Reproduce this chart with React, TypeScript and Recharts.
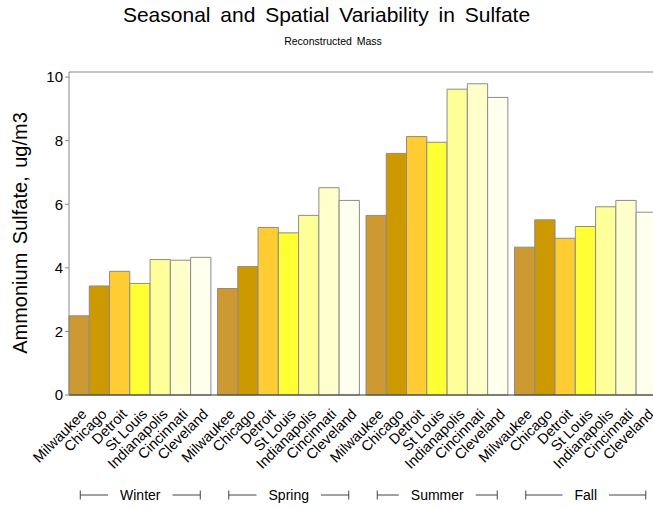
import { BarChart, Bar, XAxis, YAxis, ReferenceLine } from "recharts";

const seasons = ["Winter", "Spring", "Summer", "Fall"];
const cities = ["Milwaukee", "Chicago", "Detroit", "St Louis", "Indianapolis", "Cincinnati", "Cleveland"];

// ammonium sulfate by season, one array per site
const milwaukee = [2.49, 3.35, 5.65, 4.65];
const chicago = [3.43, 4.04, 7.6, 5.51];
const detroit = [3.89, 5.27, 8.13, 4.93];
const stLouis = [3.51, 5.1, 7.95, 5.3];
const indianapolis = [4.26, 5.65, 9.62, 5.92];
const cincinnati = [4.24, 6.52, 9.79, 6.12];
const cleveland = [4.33, 6.12, 9.36, 5.75];

const cityValues = [milwaukee, chicago, detroit, stLouis, indianapolis, cincinnati, cleveland];
const cityColors = ["#cc9933", "#cc9900", "#ffcc33", "#ffff33", "#ffff99", "#ffffcc", "#ffffee"];
const yTicks = [0, 2, 4, 6, 8, 10];

const data = seasons.map((season, i) => {
  const row: Record<string, string | number> = { season };
  cities.forEach((c, j) => {
    row[c] = cityValues[j][i];
  });
  return row;
});

const FONT = '"Liberation Sans", Arial, Helvetica, sans-serif';
const BAR_W = 20.27;
const Y_MAX = 10.16;

let ctx: CanvasRenderingContext2D | null = null;
const textWidth = (s: string, size: number) => {
  if (!ctx) ctx = document.createElement("canvas").getContext("2d");
  if (!ctx) return s.length * size * 0.55;
  ctx.font = `${size}px ${FONT}`;
  return ctx.measureText(s).width;
};

const SeasonTick = (props: any) => {
  const { x, payload } = props;
  const left = x - (BAR_W * cities.length) / 2;
  const label = String(payload.value);
  const half = textWidth(label, 14) / 2 + 12;
  const y0 = 495;
  return (
    <g>
      {cities.map((c, i) => {
        const cx = left + (i + 0.5) * BAR_W + 8;
        return (
          <text
            key={c}
            transform={`translate(${cx},${415}) rotate(-45)`}
            textAnchor="end"
            fontSize={14.5}
            fontFamily={FONT}
            fill="#000"
          >
            {c}
          </text>
        );
      })}
      <line x1={x - 60} x2={x - half} y1={y0} y2={y0} stroke="#444" />
      <line x1={x - 60} x2={x - 60} y1={y0 - 4.5} y2={y0 + 4.5} stroke="#444" />
      <line x1={x + half} x2={x + 60} y1={y0} y2={y0} stroke="#444" />
      <line x1={x + 60} x2={x + 60} y1={y0 - 4.5} y2={y0 + 4.5} stroke="#444" />
      <text x={x} y={y0} dy="0.36em" textAnchor="middle" fontSize={14} fontFamily={FONT} fill="#000">
        {label}
      </text>
    </g>
  );
};

export default function App() {
  return (
    <div
      style={{
        position: "absolute",
        left: 0,
        top: 0,
        width: 653,
        height: 508,
        overflow: "hidden",
        background: "#fff",
      }}
    >
      <BarChart
        width={660}
        height={508}
        data={data}
        margin={{ top: 72, right: 0, bottom: 0, left: 9 }}
        barGap={0}
        barSize={BAR_W}
      >
        <XAxis
          dataKey="season"
          height={113}
          interval={0}
          padding={{ left: -3, right: 0 }}
          tickLine={false}
          axisLine={{ stroke: "#333" }}
          tick={<SeasonTick />}
        />
        <YAxis
          width={60}
          domain={[0, Y_MAX]}
          ticks={yTicks}
          interval={0}
          tickSize={4}
          tickMargin={2}
          axisLine={{ stroke: "#888" }}
          tickLine={{ stroke: "#888" }}
          tick={{ fontSize: 15, fill: "#000", fontFamily: FONT }}
        />
        <ReferenceLine y={Y_MAX} stroke="#888" />
        {cities.map((c, i) => (
          <Bar
            key={c}
            dataKey={c}
            fill={cityColors[i]}
            stroke="#8c8c8c"
            strokeWidth={1}
            isAnimationActive={false}
          />
        ))}
      </BarChart>
      <svg
        width={653}
        height={508}
        style={{ position: "absolute", left: 0, top: 0, pointerEvents: "none" }}
      >
        <text
          x={326.5}
          y={22}
          textAnchor="middle"
          fontSize={21}
          fontFamily={FONT}
          fill="#000"
          style={{ wordSpacing: 4 }}
        >
          Seasonal and Spatial Variability in Sulfate
        </text>
        <text
          x={333}
          y={45}
          textAnchor="middle"
          fontSize={10.5}
          fontFamily={FONT}
          fill="#000"
          style={{ wordSpacing: 2 }}
        >
          Reconstructed Mass
        </text>
        <text
          transform="translate(27,233) rotate(-90)"
          textAnchor="middle"
          fontSize={20}
          fontFamily={FONT}
          fill="#000"
          style={{ wordSpacing: 3 }}
        >
          Ammonium Sulfate, ug/m3
        </text>
      </svg>
    </div>
  );
}
